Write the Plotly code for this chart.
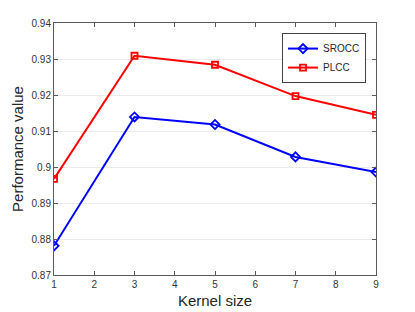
import plotly.graph_objects as go

kernel_sizes = [1, 3, 5, 7, 9]
srocc = [0.8781, 0.9139, 0.9118, 0.9028, 0.8986]
plcc = [0.8967, 0.9309, 0.9284, 0.9197, 0.9145]
x_ticks = [1, 2, 3, 4, 5, 6, 7, 8, 9]
y_ticks = [0.87, 0.88, 0.89, 0.90, 0.91, 0.92, 0.93, 0.94]
y_tick_labels = ["0.87", "0.88", "0.89", "0.9", "0.91", "0.92", "0.93", "0.94"]

fig = go.Figure()
fig.add_trace(go.Scatter(
    x=kernel_sizes, y=srocc, name="SROCC", mode="lines+markers",
    line=dict(color="#0000ff", width=2),
    marker=dict(symbol="diamond-open", size=7, color="#0000ff", line=dict(width=1.8)),
))
fig.add_trace(go.Scatter(
    x=kernel_sizes, y=plcc, name="PLCC", mode="lines+markers",
    line=dict(color="#ff0000", width=2),
    marker=dict(symbol="square-open", size=6, color="#ff0000", line=dict(width=1.8)),
))

axis_color = "#5a5a5a"
fig.update_layout(
    width=415, height=312, autosize=False,
    margin=dict(l=54, r=39, t=23, b=37),
    paper_bgcolor="white", plot_bgcolor="white",
    font=dict(family="Liberation Sans, Arial, sans-serif", color="#262626"),
    legend=dict(
        x=0.969, y=0.96, xanchor="right", yanchor="top",
        bordercolor="#404040", borderwidth=1, bgcolor="white",
        font=dict(size=10, color="#262626"),
        tracegroupgap=0, itemwidth=30,
    ),
    showlegend=True,
)
fig.update_xaxes(
    range=[1, 9], tickvals=x_ticks, ticks="inside", ticklen=4,
    tickcolor=axis_color, showline=True, linecolor=axis_color, linewidth=1,
    mirror="ticks", showgrid=False, zeroline=False, automargin=False,
    tickfont=dict(size=10, color="#333333"),
    title=dict(text="Kernel size", font=dict(size=15, color="#262626"), standoff=6),
)
fig.update_yaxes(
    range=[0.87, 0.94], tickvals=y_ticks, ticktext=y_tick_labels,
    ticks="inside", ticklen=4,
    tickcolor=axis_color, showline=True, linecolor=axis_color, linewidth=1,
    mirror="ticks", showgrid=True, gridcolor="#ebebeb", gridwidth=1, zeroline=False,
    automargin=False,
    tickfont=dict(size=10, color="#333333"),
    title=dict(text="Performance value", font=dict(size=15, color="#262626"), standoff=4),
)
fig.write_html(
    "out.html",
    config={"displayModeBar": False},
    post_script="document.body.style.margin='0';document.body.style.overflow='hidden';",
)
